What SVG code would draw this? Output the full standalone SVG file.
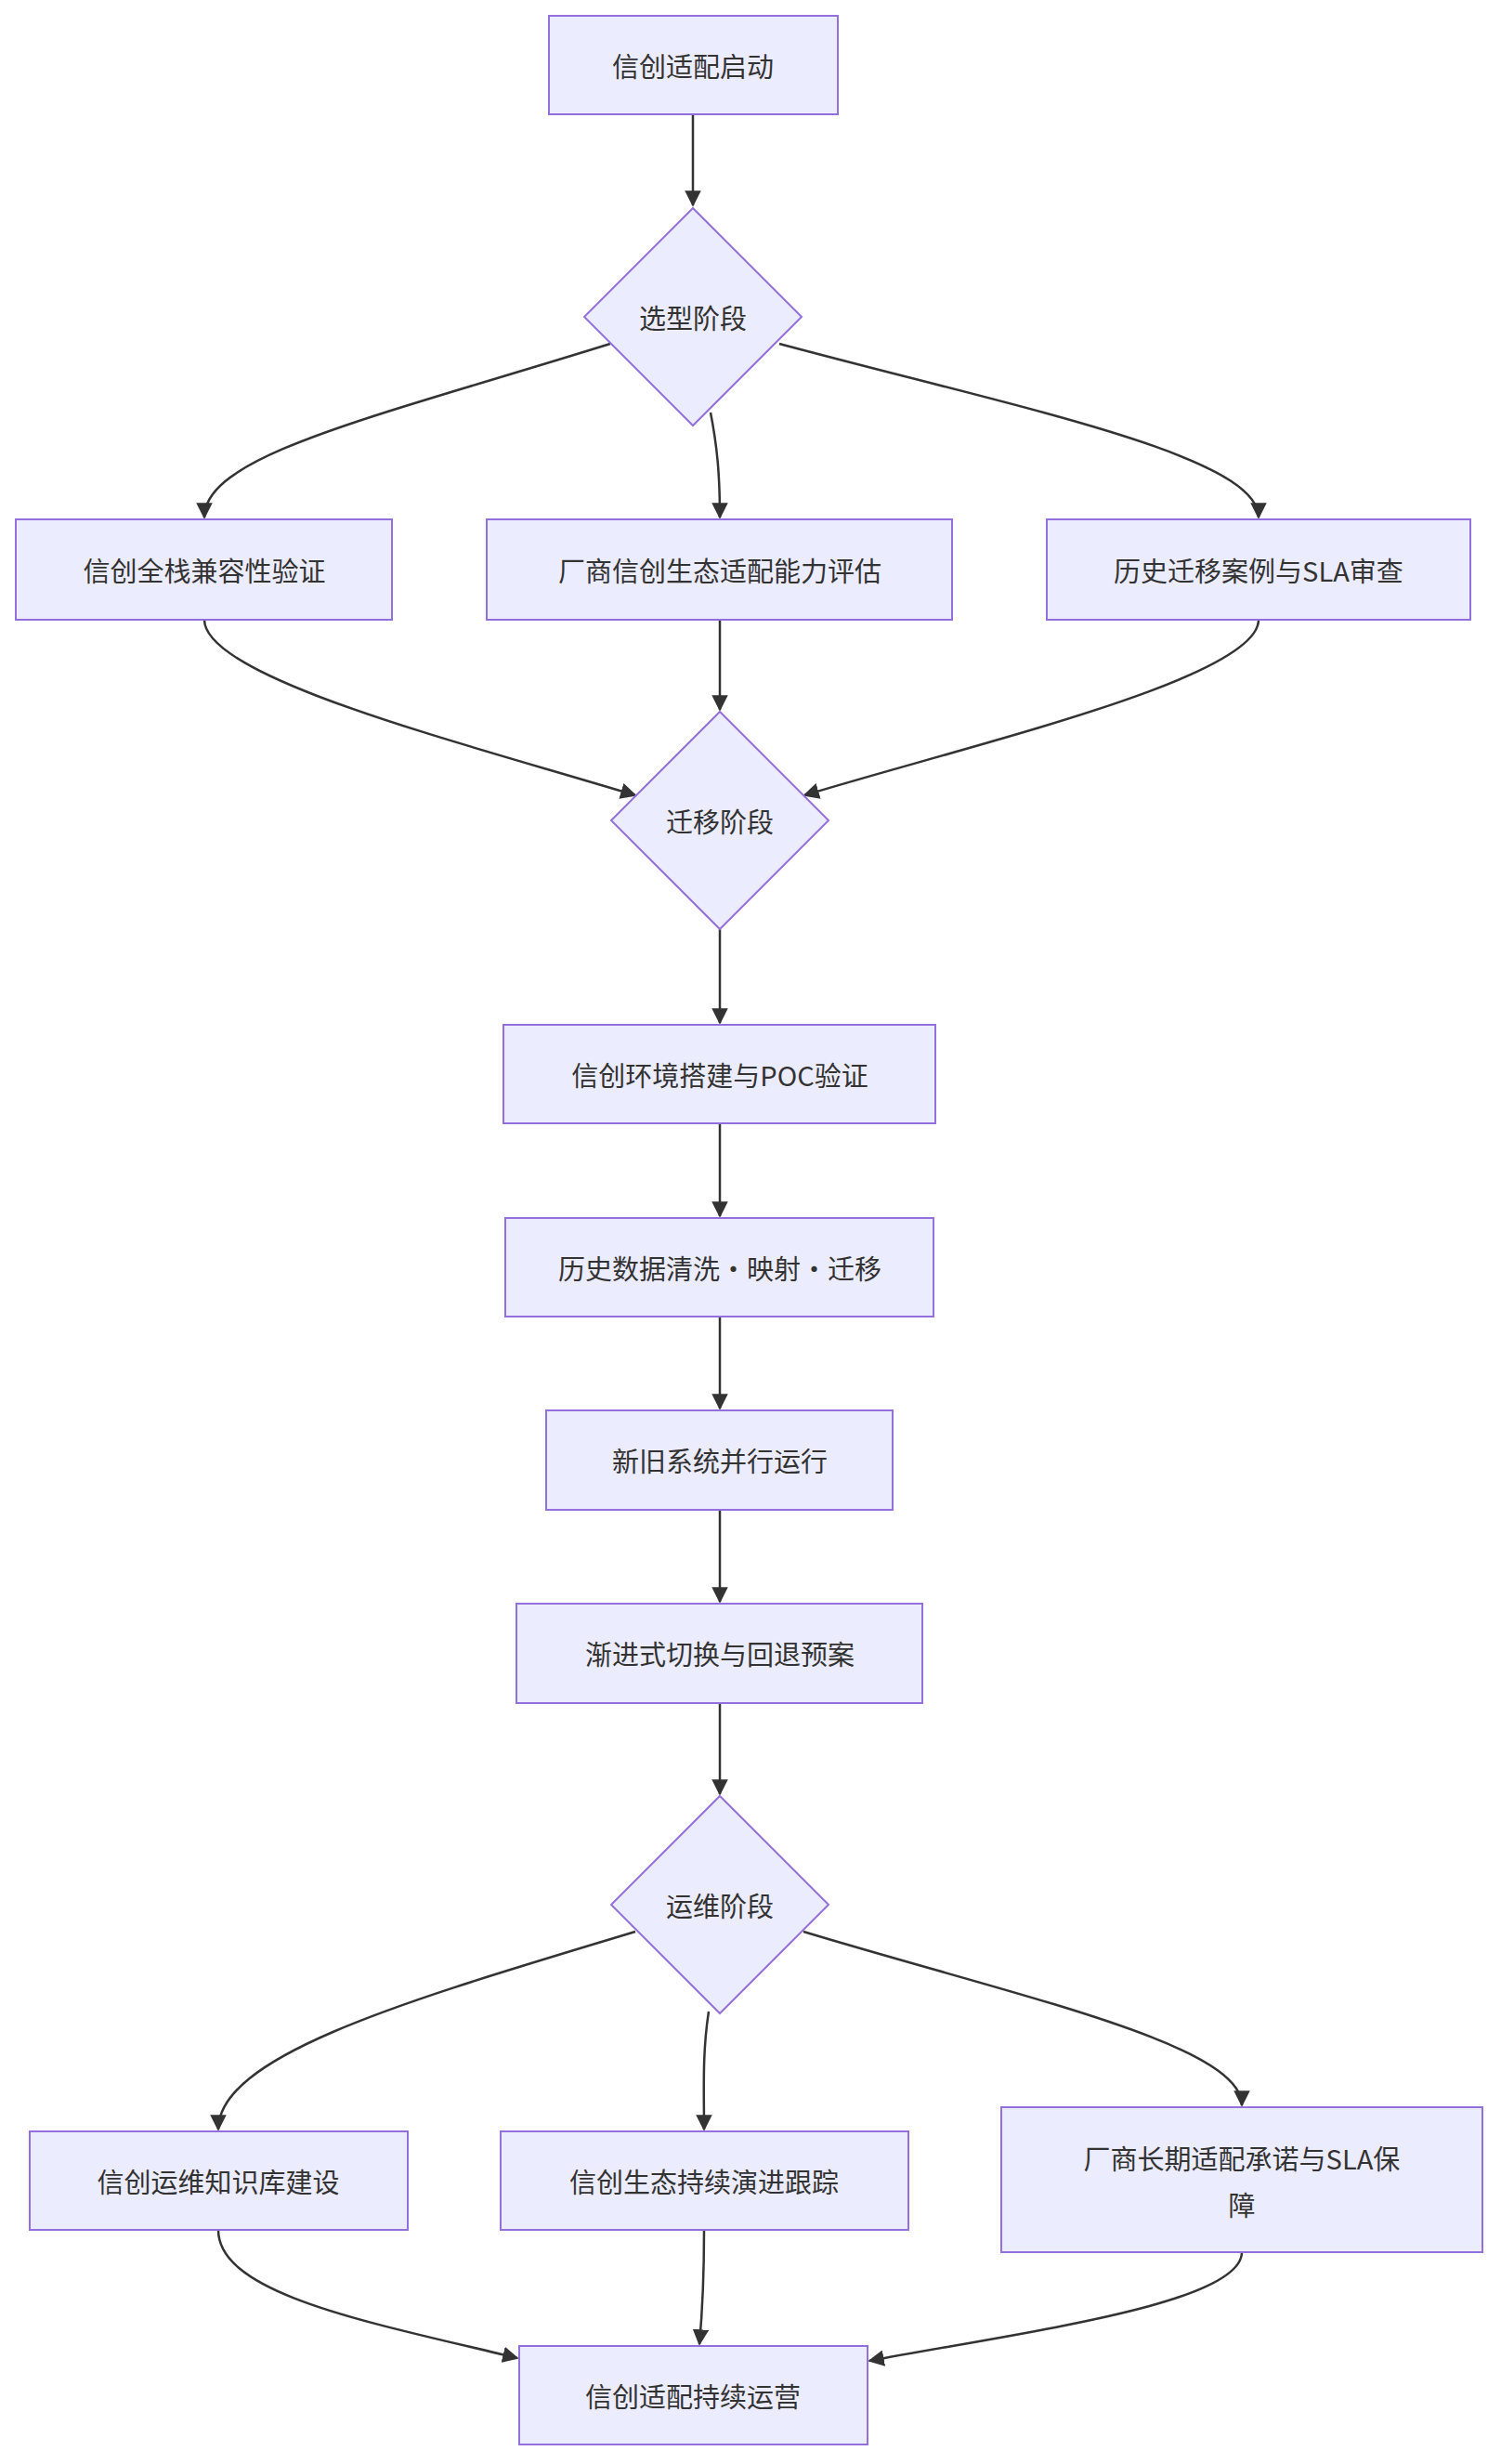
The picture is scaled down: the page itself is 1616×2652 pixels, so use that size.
<svg xmlns="http://www.w3.org/2000/svg" width="1616" height="2652" viewBox="0 0 1616 2652">
<style>
.n{fill:#ECECFF;stroke:#9370DB;stroke-width:2}
.t{font-family:"Noto Sans CJK SC","Liberation Sans",sans-serif;font-size:29px;fill:#333;text-anchor:middle;dominant-baseline:central}
.e{fill:none;stroke:#333;stroke-width:2.5;marker-end:url(#a)}
</style>
<defs><marker id="a" viewBox="0 0 10 10" refX="9" refY="5" markerWidth="7" markerHeight="7" orient="auto"><path d="M0,0L10,5L0,10z" fill="#333"/></marker></defs>
<rect width="1616" height="2652" fill="#fff"/>
<g id="edges">
<path class="e" d="M746,123V221"/>
<path class="e" d="M657,370C400,450 220,490 220,557"/>
<path class="e" d="M765,444C772,480 775,510 775,557"/>
<path class="e" d="M839,370C1100,440 1355,490 1355,557"/>
<path class="e" d="M220,667C220,730 500,800 684,856"/>
<path class="e" d="M775,667V764"/>
<path class="e" d="M1355,667C1355,730 1050,800 866,856"/>
<path class="e" d="M775,1000V1101"/>
<path class="e" d="M775,1209V1309"/>
<path class="e" d="M775,1417V1516"/>
<path class="e" d="M775,1625V1724"/>
<path class="e" d="M775,1833V1931"/>
<path class="e" d="M684,2079C450,2150 235,2210 235,2292"/>
<path class="e" d="M763,2165C756,2210 758,2250 758,2292"/>
<path class="e" d="M865,2079C1100,2150 1337,2200 1337,2266"/>
<path class="e" d="M235,2400C235,2470 400,2500 557,2538"/>
<path class="e" d="M758,2400C758,2450 756,2490 753,2523"/>
<path class="e" d="M1337,2424C1337,2480 1100,2510 936,2541"/>
</g>
<g id="n1"><rect class="n" x="591" y="17" width="311" height="106"/><text class="t" x="746" y="70">信创适配启动</text></g>
<g id="n2"><polygon class="n" points="746,224 863,341 746,458 629,341"/><text class="t" x="746" y="341">选型阶段</text></g>
<g id="n3"><rect class="n" x="17" y="559" width="405" height="108"/><text class="t" x="220" y="613">信创全栈兼容性验证</text></g>
<g id="n4"><rect class="n" x="524" y="559" width="501" height="108"/><text class="t" x="775" y="613">厂商信创生态适配能力评估</text></g>
<g id="n5"><rect class="n" x="1127" y="559" width="456" height="108"/><text class="t" x="1355" y="613">历史迁移案例与SLA审查</text></g>
<g id="n6"><polygon class="n" points="775,766 892,883 775,1000 658,883"/><text class="t" x="775" y="883">迁移阶段</text></g>
<g id="n7"><rect class="n" x="542" y="1103" width="465" height="106"/><text class="t" x="775" y="1156">信创环境搭建与POC验证</text></g>
<g id="n8"><rect class="n" x="544" y="1311" width="461" height="106"/><text class="t" x="775" y="1364">历史数据清洗·映射·迁移</text></g>
<g id="n9"><rect class="n" x="588" y="1518" width="373" height="107"/><text class="t" x="775" y="1571">新旧系统并行运行</text></g>
<g id="n10"><rect class="n" x="556" y="1726" width="437" height="107"/><text class="t" x="775" y="1779">渐进式切换与回退预案</text></g>
<g id="n11"><polygon class="n" points="775,1933 892,2050 775,2167 658,2050"/><text class="t" x="775" y="2050">运维阶段</text></g>
<g id="n12"><rect class="n" x="32" y="2294" width="407" height="106"/><text class="t" x="235" y="2347">信创运维知识库建设</text></g>
<g id="n13"><rect class="n" x="539" y="2294" width="439" height="106"/><text class="t" x="758" y="2347">信创生态持续演进跟踪</text></g>
<g id="n14"><rect class="n" x="1078" y="2268" width="518" height="156"/><text class="t" x="1337" y="2322">厂商长期适配承诺与SLA保</text><text class="t" x="1337" y="2372">障</text></g>
<g id="n15"><rect class="n" x="559" y="2525" width="375" height="106"/><text class="t" x="746" y="2578">信创适配持续运营</text></g>
</svg>
